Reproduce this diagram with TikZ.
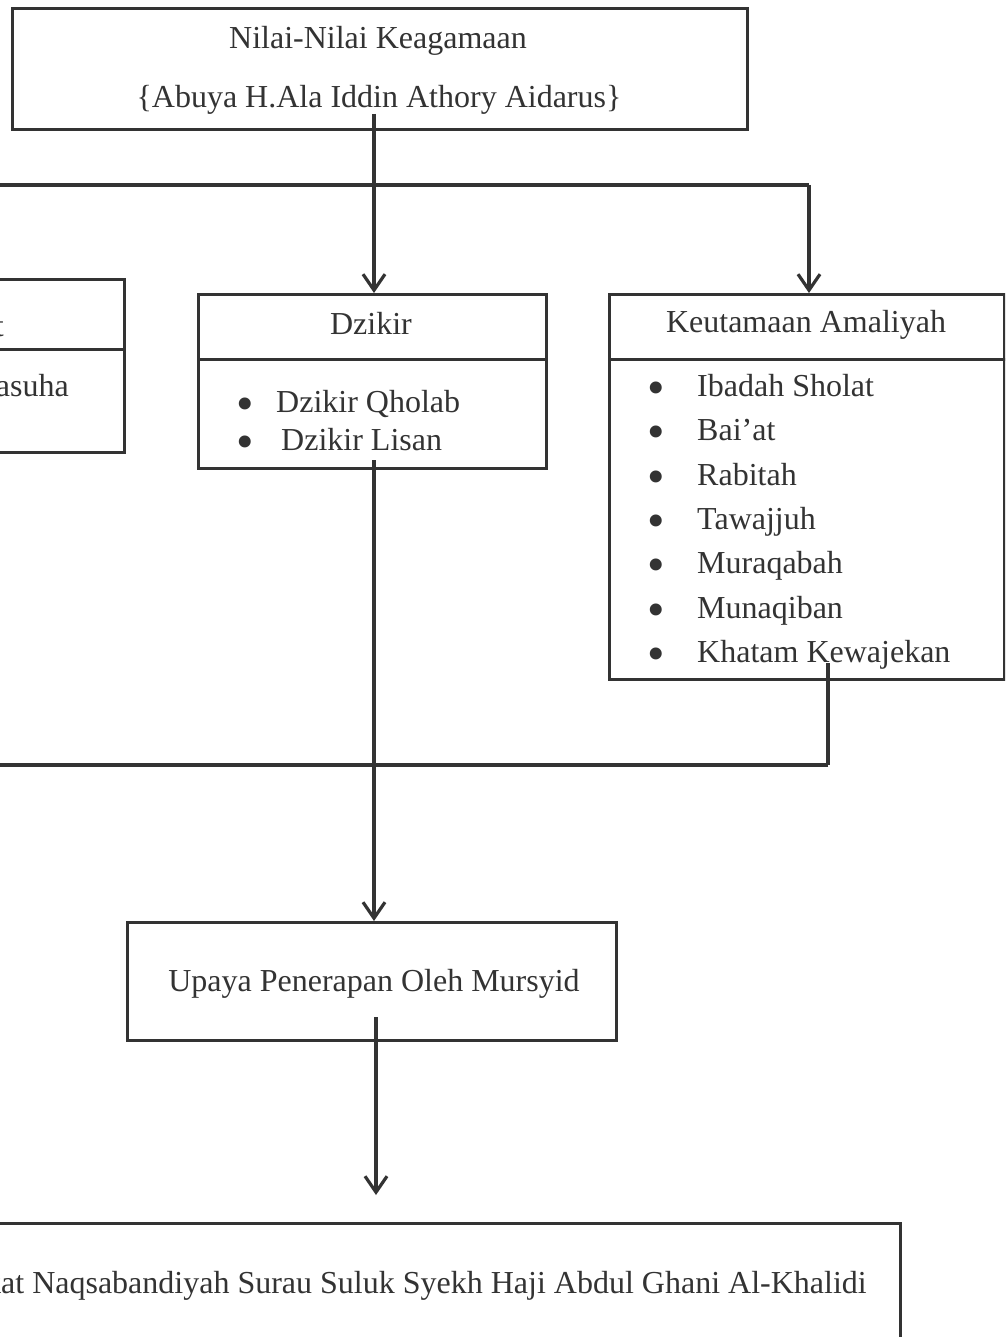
\documentclass[tikz,border=0pt]{standalone}
\usepackage{fontspec}
\setmainfont{Liberation Serif}
\usetikzlibrary{arrows.meta}
\definecolor{ink}{HTML}{333333}
\newcommand\bigfs{\fontsize{32}{38}\selectfont}
\newcommand\bulfs{\fontsize{50}{50}\selectfont}
\begin{document}
\begin{tikzpicture}[x=1pt,y=-1pt,
  box/.style={draw=ink, line width=3pt, inner sep=0pt, anchor=north west, rectangle},
  divider/.style={draw=ink, line width=3pt},
  txt/.style={text=ink, inner sep=0pt, font=\bigfs, anchor=base},
  bul/.style={text=ink, inner sep=0pt, font=\bulfs, anchor=base, text height=0pt, text depth=0pt},
  conn/.style={draw=ink, line width=3.2pt},
  bus/.style={draw=ink, line width=4.5pt},
  arr/.style={draw=ink, line width=3.2pt, -{Straight Barb[length=16pt,width=22pt,line width=3.2pt]}}
]
\useasboundingbox (0,0) rectangle (1005,1337);
\clip (0,0) rectangle (1005,1337);
\fill[white] (0,0) rectangle (1005,1337);

% boxes
\node[box, minimum width=735pt, minimum height=121pt] (top) at (11,7) {};
\node[box, minimum width=243pt, minimum height=173pt] (lb) at (-120,278) {};
\node[box, minimum width=348pt, minimum height=174pt] (dz) at (197,293) {};
\node[box, minimum width=395pt, minimum height=385pt] (ka) at (608,293) {};
\node[box, minimum width=489pt, minimum height=118pt] (up) at (126,921) {};
\node[box, minimum width=1019pt, minimum height=200pt] (bt) at (-120,1222) {};

% dividers
\draw[divider] (lb.west |- 0,349) -- (lb.east |- 0,349);
\draw[divider] (dz.west |- 0,359) -- (dz.east |- 0,359);
\draw[divider] (ka.west |- 0,359) -- (ka.east |- 0,359);

% texts
\node[txt] (t1) at (378,48.5) {Nilai-Nilai Keagamaan};
\node[txt] (t2) at (379,108) {\{Abuya H.Ala Iddin Athory Aidarus\}};

\node[txt, anchor=base east] (lbt) at (4,336) {t};
\node[txt, anchor=base east] (lbs) at (69,396) {asuha};

\node[txt] (dzt) at (371,334) {Dzikir};
\node[bul] (dzb1) at (245,420) {•};
\node[txt, anchor=base west] (dzi1) at (276,412) {Dzikir Qholab};
\node[bul] (dzb2) at (245,458) {•};
\node[txt, anchor=base west] (dzi2) at (281,450) {Dzikir Lisan};

\node[txt] (kat) at (806,332) {Keutamaan Amaliyah};
\foreach \yy/\lab [count=\i] in {396/Ibadah Sholat, 440/Bai’at, 485/Rabitah, 529/Tawajjuh, 573/Muraqabah, 618/Munaqiban, 662/Khatam Kewajekan}{
  \node[bul] (kb\i) at (656,\yy+8) {•};
  \node[txt, anchor=base west] (ki\i) at (697,\yy) {\lab};
}

\node[txt] (upt) at (374,991) {Upaya Penerapan Oleh Mursyid};
\node[txt, anchor=base east] (btt) at (867,1293) {kat Naqsabandiyah Surau Suluk Syekh Haji Abdul Ghani Al-Khalidi};

% connectors
\coordinate (s1) at (374,114);
\draw[arr] (s1) -- (s1 |- dz.north);
\coordinate (bl) at (-5,185);
\coordinate (br) at (809,185);
\draw[bus] (bl) -- (br);
\draw[arr] (br) -- (br |- ka.north);

\coordinate (k1) at (828,663);
\coordinate (k2) at (828,765);
\coordinate (k3) at (-5,765);
\draw[conn] (k1) -- (k2);
\draw[bus] (k2) -- (k3);

\coordinate (d1) at (374,460);
\draw[arr] (d1) -- (d1 |- up.north);

\coordinate (u1) at (376,1017);
\coordinate (u2) at (376,1195);
\draw[arr] (u1) -- (u2);
\end{tikzpicture}
\end{document}
